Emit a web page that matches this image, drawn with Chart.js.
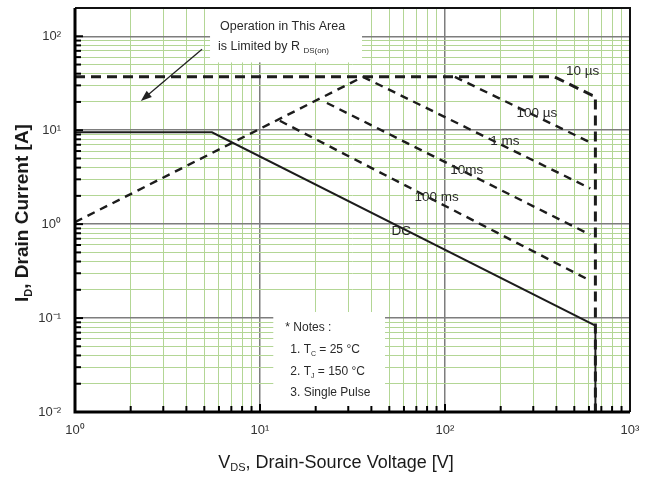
<!DOCTYPE html>
<html>
<head>
<meta charset="utf-8">
<script src="https://cdn.jsdelivr.net/npm/chart.js@4/dist/chart.umd.min.js"></script>
<style>
  html, body { margin: 0; background: #fff; }
  #wrap { width: 650px; height: 480px; }
</style>
</head>
<body>
<div id="wrap"><canvas id="soa"></canvas></div>
<script>
// axis decades and their labels
const xMajor = [1, 10, 100, 1000];
const xMajorLabels = ["10⁰", "10¹", "10²", "10³"];
const yMajor = [0.01, 0.1, 1, 10, 100];
const yMajorLabels = ["10⁻²", "10⁻¹", "10⁰", "10¹", "10²"];

// curves: V [V], I [A]
const rdsV = [1, 36];
const rdsI = [1.05, 37];
const us10V = [1, 390, 625, 650, 650];
const us10I = [37, 37, 23.5, 23, 0.01];
const us100V = [113, 610];
const us100I = [37, 7.4];
const ms1V = [36, 610];
const ms1I = [37, 2.4];
const ms10V = [23, 610];
const ms10I = [19.5, 0.77];
const ms100V = [12.8, 610];
const ms100I = [12.6, 0.25];
const dcV = [1, 5.5, 650, 650];
const dcI = [9.5, 9.5, 0.083, 0.01];

// curve labels: text, V, I
const curveLabels = ["10 µs", "100 µs", "1 ms", "10ms", "100 ms", "DC"];
const curveLabelV = [555, 314, 211, 131, 90, 58];
const curveLabelI = [42.7, 15, 7.7, 3.7, 1.93, 0.84];

const FONT = '"Liberation Sans", Arial, sans-serif';
const INK = "#1c1c1c";

function pts(xs, ys) {
    return xs.map((x, i) => ({ x: x, y: ys[i] }));
}

function minorTicks(majors) {
    let t = [];
    for (let i = 0; i < majors.length - 1; i++) {
        for (let m = 1; m < 10; m++) {
            t.push(Number((m * majors[i]).toPrecision(3)));
        }
    }
    t.push(majors[majors.length - 1]);
    return t;
}

const xTicks = minorTicks(xMajor);
const yTicks = minorTicks(yMajor);

// draw a run of text pieces, some of them subscripted
function richText(ctx, parts, x, y, size, weight) {
    let cx = x;
    parts.forEach(p => {
        let s = p.sub ? Math.round(size * 0.6) : size;
        ctx.font = (weight || "normal") + " " + s + "px " + FONT;
        ctx.fillText(p.t, cx, p.sub ? y + size * 0.3 : y);
        cx += ctx.measureText(p.t).width;
    });
    return cx - x;
}

function richWidth(ctx, parts, size, weight) {
    let w = 0;
    parts.forEach(p => {
        let s = p.sub ? Math.round(size * 0.6) : size;
        ctx.font = (weight || "normal") + " " + s + "px " + FONT;
        w += ctx.measureText(p.t).width;
    });
    return w;
}

const decor = {
    id: "decor",
    beforeDatasetsDraw(chart) {
        const { ctx, scales: { x, y } } = chart;
        ctx.save();
        ctx.fillStyle = "#fff";
        // white box behind the R_DS(on) note
        let bx0 = x.getPixelForValue(5.37), bx1 = x.getPixelForValue(35.6);
        let by1 = y.getPixelForValue(54);
        ctx.fillRect(bx0, chart.chartArea.top + 1, bx1 - bx0, by1 - chart.chartArea.top);
        // white box behind the notes
        let nx0 = x.getPixelForValue(11.8), nx1 = x.getPixelForValue(47.4);
        let ny0 = y.getPixelForValue(0.116);
        ctx.fillRect(nx0, ny0, nx1 - nx0, chart.chartArea.bottom - ny0 - 1);
        ctx.restore();
    },
    afterDatasetsDraw(chart) {
        const { ctx, chartArea: a, scales: { x, y } } = chart;
        ctx.save();

        // inner tick marks
        ctx.strokeStyle = "#000";
        ctx.lineWidth = 2;
        yTicks.forEach(v => {
            let py = y.getPixelForValue(v);
            let len = yMajor.includes(v) ? 8 : 6;
            ctx.beginPath();
            ctx.moveTo(a.left, py);
            ctx.lineTo(a.left + len, py);
            ctx.stroke();
        });
        xTicks.forEach(v => {
            let px = x.getPixelForValue(v);
            let len = xMajor.includes(v) ? 8 : 6;
            ctx.beginPath();
            ctx.moveTo(px, a.bottom);
            ctx.lineTo(px, a.bottom - len);
            ctx.stroke();
        });

        // frame
        ctx.lineWidth = 2;
        ctx.strokeStyle = "#111";
        ctx.beginPath();
        ctx.moveTo(a.left, a.top);
        ctx.lineTo(a.right, a.top);
        ctx.lineTo(a.right, a.bottom);
        ctx.stroke();
        ctx.lineWidth = 3;
        ctx.strokeStyle = "#000";
        ctx.beginPath();
        ctx.moveTo(a.left, a.top);
        ctx.lineTo(a.left, a.bottom);
        ctx.lineTo(a.right, a.bottom);
        ctx.stroke();

        // arrow towards the R_DS(on) limited area
        let ax0 = x.getPixelForValue(4.86), ay0 = y.getPixelForValue(72.8);
        let ax1 = x.getPixelForValue(2.27), ay1 = y.getPixelForValue(20.5);
        let ang = Math.atan2(ay1 - ay0, ax1 - ax0);
        ctx.strokeStyle = "#222";
        ctx.fillStyle = "#222";
        ctx.lineWidth = 1.3;
        ctx.beginPath();
        ctx.moveTo(ax0, ay0);
        ctx.lineTo(ax1 - 6 * Math.cos(ang), ay1 - 6 * Math.sin(ang));
        ctx.stroke();
        ctx.beginPath();
        ctx.moveTo(ax1, ay1);
        ctx.lineTo(ax1 - 11 * Math.cos(ang) + 4 * Math.sin(ang), ay1 - 11 * Math.sin(ang) - 4 * Math.cos(ang));
        ctx.lineTo(ax1 - 11 * Math.cos(ang) - 4 * Math.sin(ang), ay1 - 11 * Math.sin(ang) + 4 * Math.cos(ang));
        ctx.closePath();
        ctx.fill();

        // curve labels
        ctx.fillStyle = "#2a2a2a";
        ctx.textBaseline = "middle";
        ctx.textAlign = "center";
        ctx.font = "13.5px " + FONT;
        curveLabels.forEach((t, i) => {
            ctx.fillText(t, x.getPixelForValue(curveLabelV[i]), y.getPixelForValue(curveLabelI[i]));
        });

        // R_DS(on) note
        ctx.textAlign = "left";
        let tx = x.getPixelForValue(5.37) + 10;
        ctx.font = "12.5px " + FONT;
        ctx.fillText("Operation in This Area", tx, a.top + 19);
        richText(ctx, [{ t: "is Limited by R " }, { t: "DS(on)", sub: true }], tx - 2, a.top + 39, 12.5);

        // notes
        let nx = x.getPixelForValue(11.8) + 10;
        let ny = y.getPixelForValue(0.116);
        ctx.font = "12px " + FONT;
        ctx.fillText("* Notes :", nx + 2, ny + 16);
        richText(ctx, [{ t: "1. T" }, { t: "C", sub: true }, { t: " = 25 °C" }], nx + 7, ny + 38, 12);
        richText(ctx, [{ t: "2. T" }, { t: "J", sub: true }, { t: " = 150 °C" }], nx + 7, ny + 60, 12);
        ctx.font = "12px " + FONT;
        ctx.fillText("3. Single Pulse", nx + 7, ny + 81);

        // axis titles
        ctx.fillStyle = "#1a1a1a";
        let xt = [{ t: "V" }, { t: "DS", sub: true }, { t: ", Drain-Source Voltage [V]" }];
        let w = richWidth(ctx, xt, 18);
        richText(ctx, xt, 336 - w / 2, 463, 18);

        let yt = [{ t: "I" }, { t: "D", sub: true }, { t: ", Drain Current [A]" }];
        ctx.translate(23, 213);
        ctx.rotate(-Math.PI / 2);
        w = richWidth(ctx, yt, 19, "bold");
        richText(ctx, yt, -w / 2, 0, 19, "bold");
        ctx.restore();
    }
};

function gridColor(majors) {
    return c => (c.tick && majors.includes(c.tick.value)) ? "#7d7d7d" : "#b3d695";
}

const thin = { borderWidth: 2.4, borderDash: [8, 6] };

new Chart(document.getElementById("soa"), {
    type: "scatter",
    data: {
        datasets: [
            { label: "RDS(on) limit", data: pts(rdsV, rdsI), ...thin },
            { label: "10 µs", data: pts(us10V, us10I), borderWidth: 3, borderDash: [10, 6] },
            { label: "100 µs", data: pts(us100V, us100I), ...thin },
            { label: "1 ms", data: pts(ms1V, ms1I), ...thin },
            { label: "10 ms", data: pts(ms10V, ms10I), ...thin },
            { label: "100 ms", data: pts(ms100V, ms100I), ...thin },
            { label: "DC", data: pts(dcV, dcI), borderWidth: 2 }
        ].map(d => Object.assign({ showLine: true, pointRadius: 0, borderColor: INK, fill: false, tension: 0 }, d))
    },
    options: {
        responsive: true,
        maintainAspectRatio: false,
        animation: false,
        layout: { padding: { top: 8, right: 20, left: 0, bottom: 0 } },
        plugins: { legend: { display: false }, tooltip: { enabled: false } },
        scales: {
            x: {
                type: "logarithmic",
                min: 1,
                max: 1000,
                afterBuildTicks: s => { s.ticks = xTicks.map(v => ({ value: v })); },
                afterFit: s => { s.height = 68; s.paddingLeft = 0; s.paddingRight = 0; },
                grid: { color: gridColor(xMajor), lineWidth: c => (c.tick && xMajor.includes(c.tick.value)) ? 1.5 : 1, drawTicks: false },
                border: { display: false },
                ticks: {
                    autoSkip: false,
                    maxRotation: 0,
                    padding: 11,
                    color: "#333",
                    font: { family: FONT, size: 13 },
                    callback: v => { let i = xMajor.indexOf(v); return i < 0 ? "" : xMajorLabels[i]; }
                }
            },
            y: {
                type: "logarithmic",
                min: 0.01,
                max: 200,
                afterBuildTicks: s => { s.ticks = yTicks.map(v => ({ value: v })); },
                afterFit: s => { s.width = 75; s.paddingTop = 0; s.paddingBottom = 0; },
                grid: { color: gridColor(yMajor), lineWidth: c => (c.tick && yMajor.includes(c.tick.value)) ? 1.5 : 1, drawTicks: false },
                border: { display: false },
                ticks: {
                    autoSkip: false,
                    padding: 14,
                    color: "#333",
                    font: { family: FONT, size: 13 },
                    callback: v => { let i = yMajor.indexOf(v); return i < 0 ? "" : yMajorLabels[i]; }
                }
            }
        }
    },
    plugins: [decor]
});
</script>
</body>
</html>
